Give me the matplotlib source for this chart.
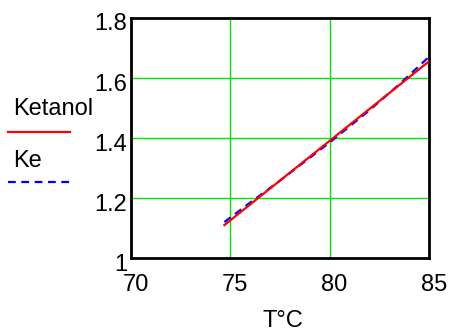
import matplotlib.pyplot as plt
import matplotlib.transforms as mtransforms
from matplotlib.lines import Line2D

plt.rcParams['font.family'] = ['Liberation Sans', 'DejaVu Sans']

# === Data ===
t_ketanol = [74.7, 85.0]
ketanol = [1.110, 1.655]

t_ke = [74.7, 76.0, 77.5, 80.0, 82.0, 83.5, 85.0]
ke = [1.120, 1.185, 1.258, 1.385, 1.492, 1.578, 1.670]

x_ticks = [70, 75, 80, 85]
y_ticks = [1.0, 1.2, 1.4, 1.6, 1.8]
y_labels = ['1', '1.2', '1.4', '1.6', '1.8']

# === Figure ===
fig = plt.figure(figsize=(4.49, 3.33), dpi=100)
ax = fig.add_axes([0.292, 0.225, 0.663, 0.721])

ax.plot(t_ketanol, ketanol, color='#ff0000', lw=1.6, zorder=3)
ax.plot(t_ke, ke, color='#0000ff', lw=1.6, ls=(0, (3.5, 2.5)), zorder=2)

ax.set_xlim(70, 85)
ax.set_ylim(1, 1.8)
ax.set_xticks(x_ticks)
ax.set_yticks(y_ticks)
ax.set_yticklabels(y_labels)
ax.grid(True, color='#00e600', lw=1.0)
ax.tick_params(length=0, labelsize=17, pad=3)
for s in ax.spines.values():
    s.set_linewidth(2)
    s.set_color('black')

# shift tick labels slightly like the original
off_y = mtransforms.ScaledTranslation(0, -4 / 100, fig.dpi_scale_trans)
for lab in ax.get_yticklabels():
    lab.set_transform(lab.get_transform() + off_y)
off_x = mtransforms.ScaledTranslation(5 / 100, -12 / 100, fig.dpi_scale_trans)
for lab in ax.get_xticklabels():
    lab.set_transform(lab.get_transform() + off_x)

fig.text(283 / 449, 1 - 321 / 333, 'T°C', fontsize=17, ha='center', va='center')

# === Legend (drawn at left) ===
fig.text(13 / 449, 1 - 109 / 333, 'Ketanol', fontsize=17, ha='left', va='center')
fig.add_artist(Line2D([8 / 449, 70 / 449], [1 - 132 / 333, 1 - 132 / 333],
                      color='#ff0000', lw=1.6, transform=fig.transFigure))
fig.text(13 / 449, 1 - 161 / 333, 'Ke', fontsize=17, ha='left', va='center')
fig.add_artist(Line2D([8 / 449, 70 / 449], [1 - 182 / 333, 1 - 182 / 333],
                      color='#0000ff', lw=1.6, ls=(0, (3.5, 2.5)),
                      transform=fig.transFigure))

fig.savefig('out.png', dpi=100)
